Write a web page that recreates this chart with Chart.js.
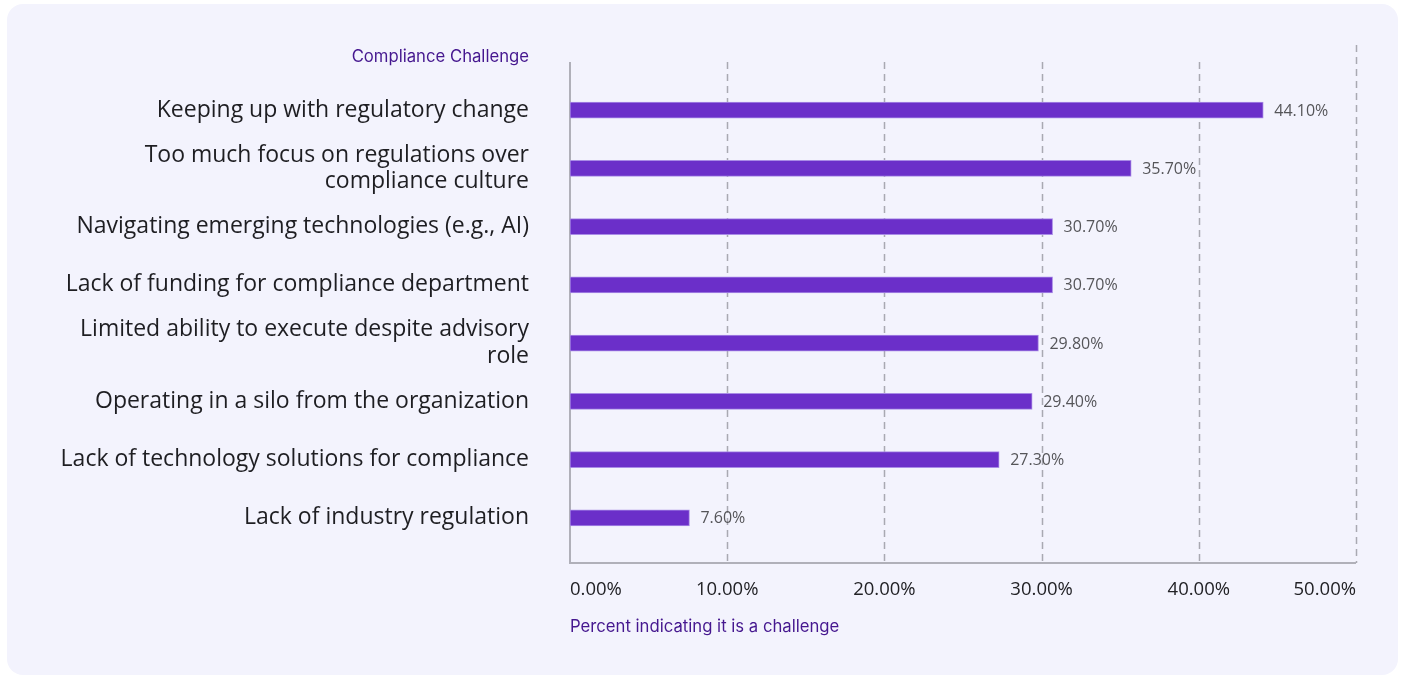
<!DOCTYPE html>
<html>
<head>
<meta charset="utf-8">
<script src="https://cdn.jsdelivr.net/npm/chart.js@4"></script>
<style>
  html, body { margin: 0; padding: 0; background: #ffffff; }
  #card {
    position: absolute; left: 7px; top: 4px; width: 1391px; height: 671px;
    background: #f3f3fd; border-radius: 16px; overflow: hidden;
  }
  #chart { display: block; }
</style>
</head>
<body>
<div id="card"><canvas id="chart" width="1391" height="671"></canvas></div>
<script>
// ──────── DATA ────────
const categories = [
  "Keeping up with regulatory change",
  ["Too much focus on regulations over", "compliance culture"],
  "Navigating emerging technologies (e.g., AI)",
  "Lack of funding for compliance department",
  ["Limited ability to execute despite advisory", "role"],
  "Operating in a silo from the organization",
  "Lack of technology solutions for compliance",
  "Lack of industry regulation"
];
const percentValues = [44.1, 35.7, 30.7, 30.7, 29.8, 29.4, 27.3, 7.6];
const xTicks = [0, 10, 20, 30, 40, 50];
const yAxisTitle = "Compliance Challenge";
const xAxisTitle = "Percent indicating it is a challenge";

const PURPLE = "#6b2fc9";
const TITLE_COLOR = "#45178f";
const GRID_COLOR = "#a9a9b2";

// ──────── PLUGINS ────────
// axis lines + dashed grid that run a bit past the bar band
const frame = {
  id: "frame",
  beforeDatasetsDraw(chart) {
    const { ctx, chartArea, scales: { x } } = chart;
    const top = chartArea.top - 19, bottom = chartArea.bottom + 16;
    ctx.save();
    ctx.strokeStyle = GRID_COLOR;
    ctx.lineWidth = 1.5;
    ctx.setLineDash([7, 5]);
    xTicks.slice(1).forEach((t, i, arr) => {
      const px = Math.round(x.getPixelForValue(t)) + 0.5;
      ctx.beginPath();
      ctx.moveTo(px, i === arr.length - 1 ? top - 17 : top);
      ctx.lineTo(px, bottom);
      ctx.stroke();
    });
    ctx.setLineDash([]);
    ctx.strokeStyle = "#b0b0b9";
    ctx.lineWidth = 2;
    const x0 = Math.round(x.getPixelForValue(0));
    ctx.beginPath();
    ctx.moveTo(x0, top);
    ctx.lineTo(x0, bottom);
    ctx.lineTo(x.getPixelForValue(50), bottom);
    ctx.stroke();
    ctx.restore();
  }
};

// value labels at the end of each bar, and the y axis title
const labels = {
  id: "labels",
  afterDatasetsDraw(chart) {
    const { ctx, chartArea, scales: { y } } = chart;
    ctx.save();
    ctx.font = "16px 'Open Sans'";
    ctx.fillStyle = "#555559";
    ctx.textBaseline = "middle";
    chart.getDatasetMeta(0).data.forEach((bar, i) => {
      ctx.fillText(percentValues[i].toFixed(2) + "%", bar.x + 11, bar.y + 1);
    });
    ctx.font = "16.7px Inter";
    ctx.fillStyle = TITLE_COLOR;
    ctx.textAlign = "right";
    ctx.fillText(yAxisTitle, y.right - 41, chartArea.top - 24);
    ctx.restore();
  }
};

// ──────── CHART ────────
new Chart(document.getElementById("chart").getContext("2d"), {
  type: "bar",
  data: {
    labels: categories,
    datasets: [{
      data: percentValues,
      backgroundColor: PURPLE,
      borderColor: "#a98ce6",
      borderWidth: 1,
      borderSkipped: false,
      barThickness: 16
    }]
  },
  plugins: [frame, labels],
  options: {
    indexAxis: "y",
    responsive: false,
    animation: false,
    layout: { padding: { top: 77, right: 42, bottom: 38, left: 0 } },
    plugins: { legend: { display: false }, tooltip: { enabled: false } },
    scales: {
      x: {
        min: 0, max: 50,
        afterBuildTicks: s => { s.ticks = xTicks.map(v => ({ value: v })); },
        afterFit: s => { s.height = 90; },
        grid: { display: false, drawTicks: false },
        border: { display: false },
        ticks: {
          align: "inner",
          padding: 32,
          maxRotation: 0,
          color: "#222226",
          font: { family: "'Open Sans'", size: 18.5 },
          callback: v => v.toFixed(2) + "%"
        },
        title: {
          display: true,
          text: xAxisTitle,
          align: "start",
          color: TITLE_COLOR,
          font: { family: "Inter", size: 16.7 },
          padding: { top: 20, bottom: 0 }
        }
      },
      y: {
        afterFit: s => { s.width = 563; },
        grid: { display: false, drawTicks: false },
        border: { display: false },
        ticks: {
          autoSkip: false,
          padding: 41,
          color: "#1e1e22",
          font: { family: "'Open Sans'", size: 23, lineHeight: 1.15 }
        }
      }
    }
  }
});
</script>
</body>
</html>
